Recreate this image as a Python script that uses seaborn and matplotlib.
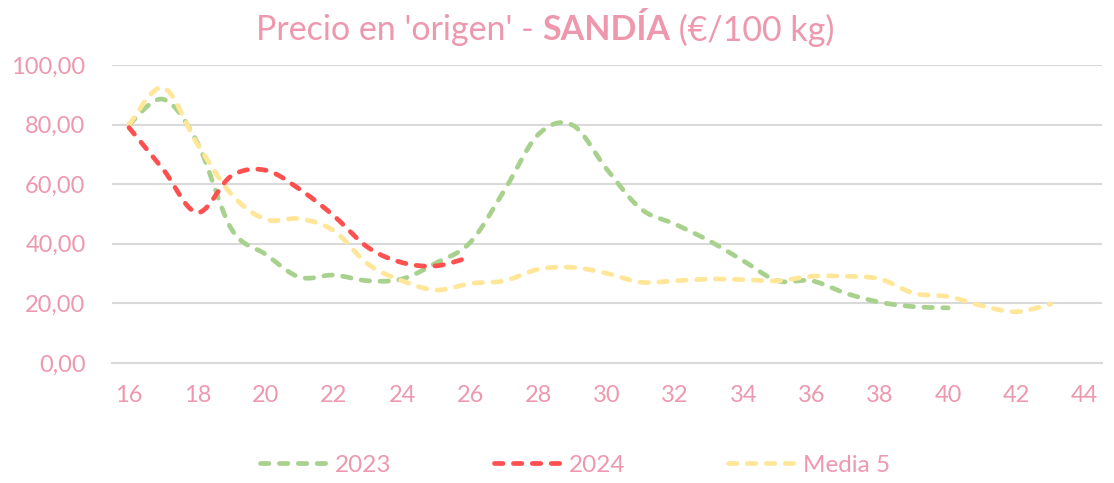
import numpy as np
import pandas as pd
import matplotlib
matplotlib.use("Agg")
import matplotlib.pyplot as plt
from matplotlib.lines import Line2D
import seaborn as sns

# data (weekly prices, EUR/100 kg)
weeks = list(range(16, 45))
tick_weeks = list(range(16, 45, 2))
y2023 = [80.0, 88.5, 74.0, 45.0, 36.5, 28.8, 29.5, 27.6, 28.2, 33.6, 40.5, 58.0,
         76.8, 79.8, 65.0, 51.7, 46.6, 41.0, 34.3, 27.6, 27.6, 23.4, 20.4, 18.9, 18.5]
y2024 = [79.0, 65.0, 50.5, 62.8, 64.7, 58.3, 49.4, 38.8, 33.7, 32.6, 35.6]
media5 = [80.0, 92.4, 73.5, 56.6, 48.2, 48.4, 44.4, 33.2, 27.6, 24.5, 26.7, 27.6,
          31.5, 32.1, 30.1, 27.1, 27.6, 28.2, 28.0, 27.6, 29.1, 29.1, 28.2, 23.4,
          22.3, 19.2, 17.2, 19.8]
series_names = ["2023", "2024", "Media 5"]
colors = {"2023": "#A9D18E", "2024": "#FF5050", "Media 5": "#FFE699"}
text_color = "#EE98AE"
grid_color = "#D9D9D9"
LW = 3.4
DASH = [1.8, 2.2]


def smooth(y, n=20):
    # Excel-style smoothed line (Catmull-Rom through the points)
    y = np.asarray(y, dtype=float)
    x = np.arange(len(y), dtype=float)
    p = np.column_stack([x, y])
    p = np.vstack([p[0], p, p[-1]])
    out = []
    t = np.linspace(0, 1, n, endpoint=False)[:, None]
    for i in range(1, len(p) - 2):
        p0, p1, p2, p3 = p[i - 1], p[i], p[i + 1], p[i + 2]
        c1 = p1 + (p2 - p0) / 6
        c2 = p2 - (p3 - p1) / 6
        seg = ((1 - t) ** 3) * p1 + 3 * ((1 - t) ** 2) * t * c1 + 3 * (1 - t) * t ** 2 * c2 + t ** 3 * p2
        out.append(seg)
    out.append(p[-2][None, :])
    out = np.vstack(out)
    return out[:, 0], out[:, 1]


sns.set_theme(style="white")
plt.rcParams["font.family"] = ["Lato", "DejaVu Sans"]

fig = plt.figure(figsize=(11.14, 4.83), dpi=100)
ax = fig.add_axes([0.1005, 0.2484, 0.8885, 0.617])

frames = []
for name, vals in zip(series_names, [y2023, y2024, media5]):
    xs, ys = smooth(vals)
    frames.append(pd.DataFrame({"x": xs, "y": ys, "serie": name}))
df = pd.concat(frames, ignore_index=True)

# draw order: 2023, Media 5 on top of 2023, 2024 on top
for name in ["2023", "Media 5", "2024"]:
    d = df[df["serie"] == name]
    sns.lineplot(data=d, x="x", y="y", color=colors[name], lw=LW, ax=ax,
                 sort=False, estimator=None)
for line in ax.get_lines():
    line.set_dashes(DASH)
    line.set_dash_capstyle("round")

ax.set_xlim(-0.5, len(weeks) - 0.5)
ax.set_ylim(0, 100)
ax.set_yticks(np.arange(0, 101, 20))
ax.set_yticklabels([f"{v:.2f}".replace(".", ",") for v in np.arange(0, 101, 20)])
ax.set_xticks([weeks.index(w) for w in tick_weeks])
ax.set_xticklabels([str(w) for w in tick_weeks])
ax.set_xticks(np.arange(-0.5, len(weeks), 1), minor=True)
ax.tick_params(axis="x", which="major", length=0, pad=16, labelsize=17, colors=text_color)
ax.tick_params(axis="x", which="minor", length=7, width=1.5, color=grid_color, direction="out")
ax.tick_params(axis="y", length=0, pad=19, labelsize=17, colors=text_color)
ax.set_xlabel("")
ax.set_ylabel("")
ax.yaxis.grid(True, color=grid_color, lw=1.5)
ax.set_axisbelow(True)
for s in ["left", "right", "top"]:
    ax.spines[s].set_visible(False)
ax.spines["bottom"].set_color(grid_color)
ax.spines["bottom"].set_linewidth(1.5)

# legend
handles = [Line2D([0], [0], color=colors[n], lw=LW, dashes=DASH,
                  dash_capstyle="round") for n in series_names]
leg = fig.legend(handles, series_names, loc="center", bbox_to_anchor=(0.516, 0.037),
                 ncol=3, frameon=False, fontsize=17.5, handlelength=2.95,
                 handletextpad=0.15, columnspacing=4.2)
for t in leg.get_texts():
    t.set_color(text_color)

# title with bold part
parts = [("Precio en 'origen' - ", "normal"), ("SANDÍA", "bold"), (" (€/100 kg)", "normal")]
fig.canvas.draw()
renderer = fig.canvas.get_renderer()
texts = []
for s, w in parts:
    texts.append(fig.text(0, 0.937, s, fontsize=24.5, fontweight=w, color=text_color,
                          ha="left", va="center"))
widths = [t.get_window_extent(renderer).width for t in texts]
total = sum(widths)
x0 = 545 - total / 2
for t, w in zip(texts, widths):
    t.set_x(x0 / fig.bbox.width)
    x0 += w

fig.savefig("out.png", dpi=100)
